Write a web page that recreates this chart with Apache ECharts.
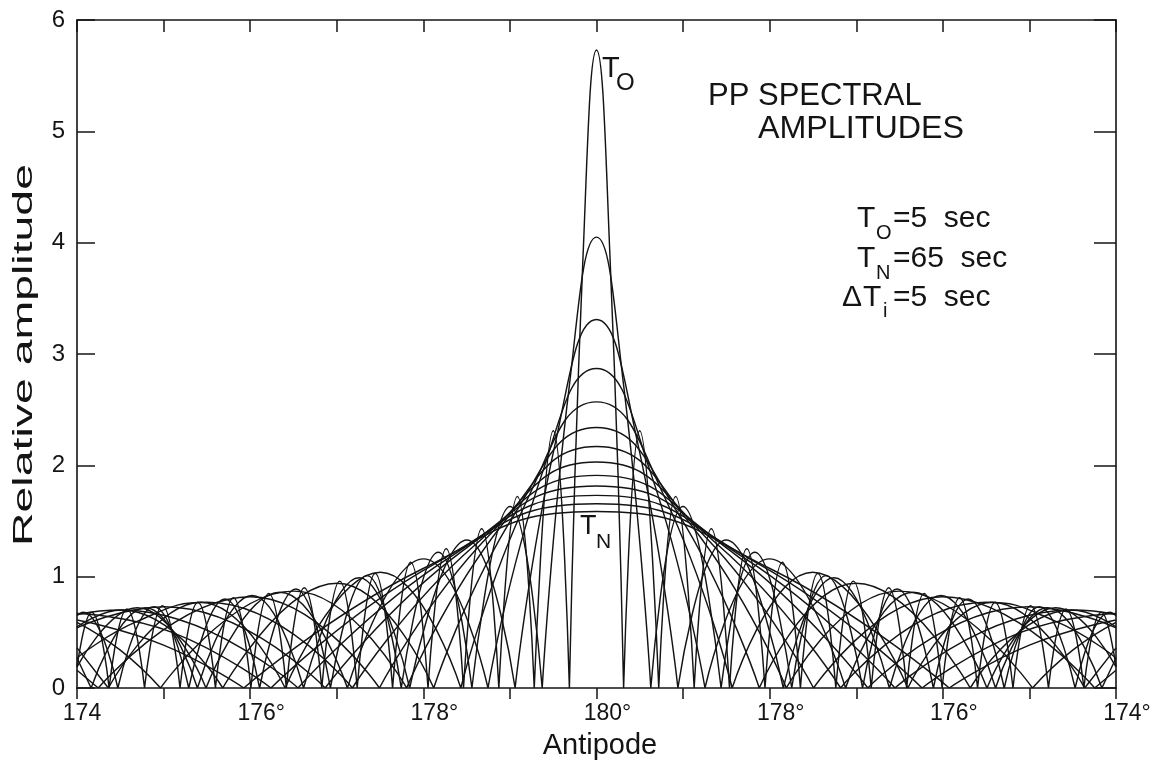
<!DOCTYPE html>
<html>
<head>
<meta charset="utf-8">
<script src="https://cdn.jsdelivr.net/npm/echarts@6/dist/echarts.min.js"></script>
<style>
  html, body { margin: 0; padding: 0; background: #ffffff; }
  #chart { width: 1163px; height: 771px; }
</style>
</head>
<body>
<div id="chart"></div>
<script>
// PP spectral amplitudes near the antipode, one curve per period
// (T0 = 5 s ... TN = 65 s, step 5 s).
// Each profile is one half: [distance from the antipode in degrees, relative amplitude].
// An amplitude of 0 marks a node where one lobe ends and the next begins.
const periods = [5, 10, 15, 20, 25, 30, 35, 40, 45, 50, 55, 60, 65];

const amp5 = [[0, 5.73], [0.157, 3.85], [0.313, 0], [0.499, 2.31], [0.719, 0], [0.914, 1.72],
  [1.128, 0], [1.326, 1.43], [1.536, 0], [1.736, 1.25], [1.946, 0], [2.146, 1.13], [2.355, 0],
  [2.556, 1.03], [2.764, 0], [2.966, 0.96], [3.173, 0], [3.375, 0.90], [3.582, 0], [3.785, 0.85],
  [3.992, 0], [4.194, 0.81], [4.401, 0], [4.604, 0.77], [4.810, 0], [5.013, 0.74], [5.220, 0],
  [5.423, 0.71], [5.629, 0], [5.832, 0.68], [6, 0.19]];
const amp10 = [[0, 4.05], [0.313, 2.72], [0.627, 0], [0.999, 1.63], [1.439, 0], [1.828, 1.22],
  [2.255, 0], [2.651, 1.01], [3.073, 0], [3.472, 0.89], [3.891, 0], [4.292, 0.80], [4.709, 0],
  [5.112, 0.73], [5.528, 0], [5.931, 0.68], [6, 0.65]];
const amp15 = [[0, 3.31], [0.47, 2.22], [0.94, 0], [1.498, 1.33], [2.158, 0], [2.742, 0.99],
  [3.383, 0], [3.977, 0.83], [4.609, 0], [5.208, 0.72], [5.837, 0], [6, 0.27]];
const amp20 = [[0, 2.87], [0.627, 1.93], [1.253, 0], [1.997, 1.16], [2.877, 0], [3.657, 0.86],
  [4.510, 0], [5.303, 0.72], [6, 0.19]];
const amp25 = [[0, 2.57], [0.783, 1.72], [1.567, 0], [2.496, 1.04], [3.596, 0], [4.571, 0.77],
  [5.638, 0], [6, 0.36]];
const amp30 = [[0, 2.34], [0.94, 1.57], [1.880, 0], [2.996, 0.94], [4.316, 0], [5.485, 0.70], [6, 0.55]];
const amp35 = [[0, 2.17], [1.097, 1.46], [2.193, 0], [3.495, 0.87], [5.035, 0], [5.5, 0.34], [6, 0.59]];
const amp40 = [[0, 2.03], [1.253, 1.36], [2.507, 0], [3.994, 0.82], [5.754, 0], [6, 0.16]];
const amp45 = [[0, 1.91], [1.41, 1.28], [2.820, 0], [4.493, 0.77], [5.3, 0.60], [6, 0.27]];
const amp50 = [[0, 1.815], [1.567, 1.22], [3.134, 0], [4.993, 0.73], [6, 0.54]];
const amp55 = [[0, 1.73], [1.723, 1.16], [3.447, 0], [5.492, 0.70], [6, 0.66]];
const amp60 = [[0, 1.655], [1.88, 1.11], [3.760, 0], [4.9, 0.50], [6, 0.67]];
const amp65 = [[0, 1.585], [2.037, 1.06], [4.074, 0], [5.0, 0.385], [6, 0.61]];

const profiles = [amp5, amp10, amp15, amp20, amp25, amp30, amp35, amp40, amp45, amp50, amp55, amp60, amp65];

// x axis runs 174° → 180° (antipode) → 174°, stored internally as 174 … 186
const xTickValues = [174, 176, 178, 180, 182, 184, 186];
const xTickText = ['174', '176°', '178°', '180°', '178°', '176°', '174°'];
const yTickValues = [0, 1, 2, 3, 4, 5, 6];

const FONT = '"Liberation Sans", Arial, sans-serif';
const INK = '#141414';

// Mirror a half profile about the antipode and break the polyline at every node,
// so each lobe touches the axis in a sharp cusp.
function fullProfile(half) {
  const left = half.slice().reverse().map(p => [180 - p[0], p[1]]);
  const right = half.slice(1).map(p => [180 + p[0], p[1]]);
  const out = [];
  left.concat(right).forEach(p => {
    out.push(p);
    if (p[1] === 0) { out.push([p[0], '-']); out.push(p); }
  });
  return out;
}

const series = profiles.map((half, i) => ({
  name: 'T = ' + periods[i] + ' s',
  type: 'line',
  data: fullProfile(half),
  smooth: 0.5,
  symbol: 'none',
  showSymbol: false,
  connectNulls: false,
  clip: true,
  silent: true,
  animation: false,
  lineStyle: { color: INK, width: 1.45 },
  z: 2
}));

function txt(x, y, s, size, opts) {
  opts = opts || {};
  return {
    type: 'text',
    x: x, y: y,
    rotation: opts.rotation || 0,
    scaleX: opts.scaleX || 1,
    silent: true,
    style: {
      text: s, x: 0, y: 0,
      font: size + 'px ' + FONT,
      fill: INK,
      textAlign: opts.align || 'left', align: opts.align || 'left',
      textVerticalAlign: 'middle', verticalAlign: 'middle'
    }
  };
}

const axisLine = { show: true, onZero: false, lineStyle: { color: INK, width: 1.6 } };
const tickStyle = { color: INK, width: 1.5 };
const tickFont = { fontSize: 23, fontFamily: FONT, color: INK };

const option = {
  backgroundColor: '#ffffff',
  animation: false,
  grid: { left: 77, right: 47, top: 20, bottom: 83, containLabel: false, outerBoundsMode: 'none' },
  xAxis: [
    {
      type: 'value', min: 174, max: 186, interval: 1, position: 'bottom',
      axisLine: axisLine,
      axisTick: { show: true, inside: false, length: 11, lineStyle: tickStyle },
      axisLabel: Object.assign({
        show: true, margin: 14,
        // digits sit centred on the tick; the degree sign hangs to the right
        formatter: v => {
          const k = xTickValues.indexOf(v);
          if (k < 0) return '';
          return (xTickText[k].indexOf('°') >= 0 ? '{d|' : '{p|') + xTickText[k] + '}';
        },
        rich: {
          d: Object.assign({ padding: [0, 0, 0, 22] }, tickFont),
          p: Object.assign({ padding: [0, 0, 0, 10] }, tickFont)
        }
      }, tickFont),
      splitLine: { show: false }
    },
    {
      type: 'value', min: 174, max: 186, interval: 1, position: 'top',
      axisLine: axisLine,
      axisTick: { show: true, inside: true, length: 12, lineStyle: tickStyle },
      axisLabel: { show: false },
      splitLine: { show: false }
    }
  ],
  yAxis: [
    {
      type: 'value', min: 0, max: 6, interval: 1, position: 'left',
      axisLine: axisLine,
      axisTick: { show: true, inside: true, length: 18, lineStyle: tickStyle },
      axisLabel: {
        show: true, margin: 12, fontSize: 24, fontFamily: FONT, color: INK,
        formatter: v => (yTickValues.indexOf(v) >= 0 ? String(v) : '')
      },
      splitLine: { show: false }
    },
    {
      type: 'value', min: 0, max: 6, interval: 1, position: 'right',
      axisLine: axisLine,
      axisTick: { show: true, inside: true, length: 22, lineStyle: tickStyle },
      axisLabel: { show: false },
      splitLine: { show: false }
    }
  ],
  series: series,
  graphic: [
    // axis titles
    txt(600, 746, 'Antipode', 29, { align: 'center' }),
    txt(25, 355, 'Relative amplitude', 27, { align: 'center', rotation: Math.PI / 2, scaleX: 1.72 }),
    // title block
    txt(708, 96, 'PP SPECTRAL', 31),
    txt(758, 129, 'AMPLITUDES', 31, { scaleX: 1.04 }),
    // parameters
    txt(857, 219, 'T', 30), txt(876, 233, 'O', 20), txt(893, 219, '=5  sec', 30),
    txt(857, 259, 'T', 30), txt(876, 273, 'N', 20), txt(893, 259, '=65  sec', 30),
    txt(842, 298, 'Δ', 30), txt(863, 298, 'T', 30), txt(883, 311, 'i', 20), txt(893, 298, '=5  sec', 30),
    // curve labels
    txt(602, 69, 'T', 29), txt(616, 83, 'O', 24),
    txt(580, 527, 'T', 27), txt(596, 542, 'N', 21)
  ]
};

const chart = echarts.init(document.getElementById('chart'), null, { renderer: 'canvas' });
chart.setOption(option);
</script>
</body>
</html>
